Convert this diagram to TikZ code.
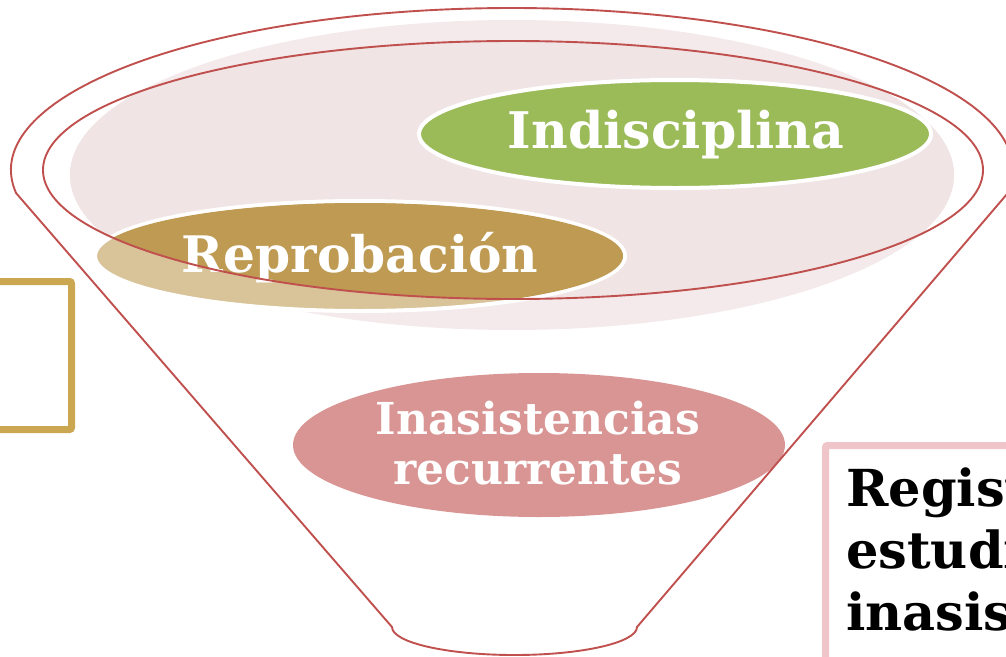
\documentclass[tikz,border=0pt]{standalone}
\usepackage{fontspec}
\setmainfont{DejaVu Serif}
\usetikzlibrary{shapes.geometric}
\definecolor{funnelred}{HTML}{C0504D}
\definecolor{pinkbg}{HTML}{F4EAEB}
\definecolor{pinkbgin}{HTML}{F1E4E5}
\definecolor{greenfill}{HTML}{9BBB59}
\definecolor{golddark}{HTML}{BF9A52}
\definecolor{goldlight}{HTML}{D9C399}
\definecolor{rosefill}{HTML}{D99594}
\definecolor{goldbox}{HTML}{CCA752}
\definecolor{pinkbox}{HTML}{F0C5CA}
\tikzset{
  redline/.style={draw=funnelred, line width=1.9pt},
  blob/.style={ellipse, inner sep=0pt, draw=white, line width=4pt},
  lbl/.style={text=white, font=\bfseries, align=center, inner sep=0pt},
  boxline/.style={line width=7pt, rounded corners=2pt},
}
\begin{document}
\begin{tikzpicture}[x=1pt,y=-1pt]
\useasboundingbox (0,0) rectangle (1006,656);
\clip (0,0) rectangle (1006,656);
% pink background ellipse
\fill[pinkbg] (512,175) ellipse [x radius=442, y radius=155];
\begin{scope}
  \clip (513,170) ellipse [x radius=470, y radius=129];
  \fill[pinkbgin] (512,175) ellipse [x radius=442, y radius=155];
\end{scope}
% Indisciplina
\node[blob, fill=greenfill, minimum width=512, minimum height=108] (indis) at (675,134) {};
\node[lbl, font=\bfseries\fontsize{50.5}{50}\selectfont, anchor=base] (indistxt) at (676,148) {Indisciplina};
% Reprobacion
\node[blob, fill=goldlight, minimum width=530, minimum height=110] (repro) at (360,256) {};
\begin{scope}
  \clip (513,170) ellipse [x radius=470, y radius=129];
  \fill[golddark] (360,256) ellipse [x radius=263, y radius=53];
\end{scope}
\node[lbl, font=\bfseries\fontsize{50.3}{50}\selectfont, anchor=base] (reprotxt) at (360,272) {Reprobación};
% inner ellipse
\draw[redline] (513,170) ellipse [x radius=470, y radius=129];
% Inasistencias
\node[ellipse, inner sep=0pt, fill=rosefill, minimum width=492, minimum height=144] (inas) at (539,445) {};
\node[lbl, font=\bfseries\fontsize{44}{50}\selectfont] (inastxt) at (538,443) {Inasistencias\\recurrentes};
% funnel outline
\draw[redline] (16.1,193.1) arc [start angle=171.8, end angle=368.2, x radius=501, y radius=162]
  -- (637,627) arc [start angle=0, end angle=180, x radius=122.5, y radius=28] -- cycle;
% left box
\draw[goldbox, boxline] (-20,281.5) rectangle (71.5,429.5);
% right box
\draw[pinkbox, boxline] (825.5,445.5) rectangle (1030,680);
\node[font=\bfseries\fontsize{51}{62}\selectfont, align=left, anchor=base west, inner sep=0pt] (regtxt) at (846,630) {Regist\\estudi\\inasis};
\end{tikzpicture}
\end{document}
